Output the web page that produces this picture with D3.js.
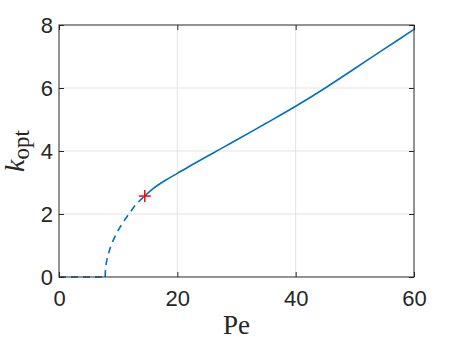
<!DOCTYPE html>
<html>
<head>
<meta charset="utf-8">
<script src="https://cdn.jsdelivr.net/npm/d3@7"></script>
<style>
  body { margin: 0; background: #fff; }
  svg { display: block; }
</style>
</head>
<body>
<div id="chart"></div>
<script>
// values
var xTicks = [0, 20, 40, 60];
var yTicks = [0, 2, 4, 6, 8];

// k_opt = 0 branch (dashed) up to the onset
var zeroPe = [0, 7.8];
var zeroK = [0, 0];

// unstable branch (dashed) from the onset up to the marked point
var dashPe = [7.8, 7.85, 7.95, 8.1, 8.4, 8.8, 9.3, 10, 11, 12, 13, 14.5];
var dashK = [0, 0.22, 0.39, 0.55, 0.77, 1.0, 1.22, 1.48, 1.78, 2.05, 2.3, 2.57];

// solid branch from the marked point onwards
var solidPe = [14.5, 16, 18, 20, 22, 24, 26, 28, 30, 35, 40, 45, 50, 55, 60];
var solidK = [2.57, 2.82, 3.07, 3.29, 3.51, 3.72, 3.93, 4.14, 4.35, 4.88, 5.42, 6.0, 6.62, 7.24, 7.86];

// the red cross
var markPe = [14.5];
var markK = [2.57];

var width = 457, height = 343;
var margin = {top: 25, right: 43, bottom: 66, left: 59};
var plotW = width - margin.left - margin.right;
var plotH = height - margin.top - margin.bottom;

var blue = '#0072bd';
var axisColor = '#262626';
var gridColor = '#e3e3e3';
var tickFont = '"Liberation Sans", Arial, Helvetica, sans-serif';
var labelFont = '"Liberation Serif", "Times New Roman", serif';

function zipPoints(xs, ys) {
  return xs.map(function(x, i) { return [x, ys[i]]; });
}

var svg = d3.select('#chart').append('svg')
  .attr('width', width)
  .attr('height', height);

var root = svg.append('g')
  .attr('transform', 'translate(' + margin.left + ',' + margin.top + ')');

var x = d3.scaleLinear().domain([0, 60]).range([0, plotW]);
var y = d3.scaleLinear().domain([0, 8]).range([plotH, 0]);

// grid
var grid = root.append('g').attr('class', 'grid');

grid.selectAll('line.gx').data(xTicks.slice(1, -1)).enter().append('line')
  .attr('x1', function(d) { return x(d); })
  .attr('x2', function(d) { return x(d); })
  .attr('y1', 0).attr('y2', plotH)
  .attr('stroke', gridColor).attr('stroke-width', 1);

grid.selectAll('line.gy').data(yTicks.slice(1, -1)).enter().append('line')
  .attr('x1', 0).attr('x2', plotW)
  .attr('y1', function(d) { return y(d); })
  .attr('y2', function(d) { return y(d); })
  .attr('stroke', gridColor).attr('stroke-width', 1);

// data lines
var line = d3.line()
  .x(function(d) { return x(d[0]); })
  .y(function(d) { return y(d[1]); });

root.append('path')
  .datum(zipPoints(zeroPe, zeroK))
  .attr('d', line.curve(d3.curveLinear))
  .attr('fill', 'none')
  .attr('stroke', blue)
  .attr('stroke-width', 1.6)
  .attr('stroke-dasharray', '7,5');

root.append('path')
  .datum(zipPoints(dashPe, dashK))
  .attr('d', line.curve(d3.curveMonotoneY))
  .attr('fill', 'none')
  .attr('stroke', blue)
  .attr('stroke-width', 1.6)
  .attr('stroke-dasharray', '7,5');

root.append('path')
  .datum(zipPoints(solidPe, solidK))
  .attr('d', line.curve(d3.curveCatmullRom))
  .attr('fill', 'none')
  .attr('stroke', blue)
  .attr('stroke-width', 1.6);

// marker
var marks = root.selectAll('g.mark').data(zipPoints(markPe, markK)).enter()
  .append('g').attr('class', 'mark')
  .attr('transform', function(d) {
    return 'translate(' + x(d[0]) + ',' + y(d[1]) + ')';
  });
marks.append('line').attr('x1', -6).attr('x2', 6).attr('y1', 0).attr('y2', 0)
  .attr('stroke', '#ff0000').attr('stroke-width', 1.5);
marks.append('line').attr('x1', 0).attr('x2', 0).attr('y1', -6).attr('y2', 6)
  .attr('stroke', '#ff0000').attr('stroke-width', 1.5);

// axes, ticks inside, box on
function styleAxis(g) {
  g.select('.domain').remove();
  g.selectAll('.tick line').attr('stroke', axisColor);
  g.selectAll('.tick text')
    .attr('fill', axisColor)
    .style('font-family', tickFont)
    .style('font-size', '22px');
}

root.append('g')
  .attr('transform', 'translate(0,' + plotH + ')')
  .call(d3.axisBottom(x).tickValues(xTicks).tickSizeInner(-5).tickSizeOuter(0)
    .tickPadding(13))
  .call(styleAxis);

root.append('g')
  .call(d3.axisLeft(y).tickValues(yTicks).tickSizeInner(-5).tickSizeOuter(0)
    .tickPadding(6))
  .call(styleAxis);

root.append('g')
  .call(d3.axisTop(x).tickValues(xTicks).tickSizeInner(-5).tickSizeOuter(0)
    .tickFormat(''))
  .call(styleAxis);

root.append('g')
  .attr('transform', 'translate(' + plotW + ',0)')
  .call(d3.axisRight(y).tickValues(yTicks).tickSizeInner(-5).tickSizeOuter(0)
    .tickFormat(''))
  .call(styleAxis);

root.append('rect')
  .attr('x', 0).attr('y', 0)
  .attr('width', plotW).attr('height', plotH)
  .attr('fill', 'none')
  .attr('stroke', axisColor)
  .attr('stroke-width', 1);

// axis labels
svg.append('text')
  .attr('x', margin.left + plotW / 2)
  .attr('y', 334)
  .attr('text-anchor', 'middle')
  .attr('fill', axisColor)
  .style('font-family', labelFont)
  .style('font-size', '27px')
  .text('Pe');

var yLabel = svg.append('text')
  .attr('transform', 'translate(24,' + (margin.top + plotH / 2) + ') rotate(-90)')
  .attr('text-anchor', 'middle')
  .attr('fill', axisColor)
  .style('font-family', labelFont)
  .style('font-size', '28px');
yLabel.append('tspan').style('font-style', 'italic').text('k');
yLabel.append('tspan').attr('dy', 5).style('font-size', '23px').text('opt');
</script>
</body>
</html>
